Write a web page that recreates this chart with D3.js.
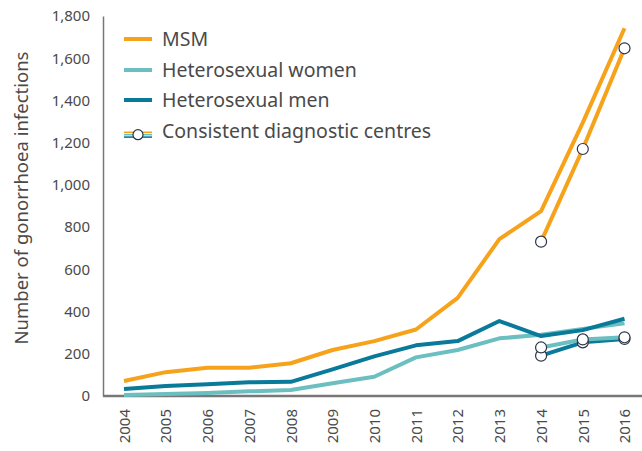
<!DOCTYPE html>
<html>
<head>
<meta charset="utf-8">
<script src="https://cdn.jsdelivr.net/npm/d3@7"></script>
<style>
  body { margin: 0; background: #fff; }
  svg text { font-family: "Noto Sans", "Open Sans", sans-serif; fill: #4a4a4a; }
</style>
</head>
<body>
<svg id="chart" width="642" height="451"></svg>
<script>
var years = [2004, 2005, 2006, 2007, 2008, 2009, 2010, 2011, 2012, 2013, 2014, 2015, 2016];
var msm = [71, 113, 134, 134, 155, 218, 260, 315, 465, 743, 876, 1295, 1742];
var women = [5, 9, 14, 22, 28, 60, 91, 183, 218, 273, 290, 318, 344];
var men = [33, 47, 56, 65, 67, 126, 188, 240, 260, 355, 284, 312, 366];

var consYears = [2014, 2015, 2016];
var msmCons = [731, 1170, 1647];
var womenCons = [230, 268, 278];
var menCons = [191, 254, 270];

var yTicks = [0, 200, 400, 600, 800, 1000, 1200, 1400, 1600, 1800];

var orange = "#f7a21b",
lightTeal = "#6cbfc0",
darkTeal = "#0a7a9a",
ring = "#2b3447";

var svg = d3.select("#chart");

var x = d3.scaleLinear().domain([2004, 2016]).range([124, 624.5]);
var y = d3.scaleLinear().domain([0, 1800]).range([396, 16]);

//AXES
var yAxis = svg.append("g")
	.attr("transform", "translate(103,0)")
	.call(d3.axisLeft(y).tickValues(yTicks).tickSize(0).tickPadding(13).tickFormat(d3.format(",")));
yAxis.select(".domain").attr("stroke", "#777").attr("stroke-width", 1.5);
yAxis.selectAll("text").style("font-size", "15px");

var xAxis = svg.append("g")
	.attr("transform", "translate(0,396)")
	.call(d3.axisBottom(x).tickValues(years).tickSize(0).tickFormat(d3.format("d")));
xAxis.select(".domain").attr("d", "M103,0H642").attr("stroke", "#777").attr("stroke-width", 2.5);
xAxis.selectAll("text")
	.style("font-size", "15px")
	.attr("text-anchor", "end")
	.attr("transform", "rotate(-90)")
	.attr("x", -13)
	.attr("y", 0)
	.attr("dy", "0.35em");

svg.append("text")
	.attr("transform", "translate(28,198) rotate(-90)")
	.attr("text-anchor", "middle")
	.style("font-size", "18.5px")
	.text("Number of gonorrhoea infections");

//LINES
var line = d3.line()
	.x(function(d){ return x(d[0]); })
	.y(function(d){ return y(d[1]); });

function series(xs, vals, color){
	svg.append("path")
		.datum(d3.zip(xs, vals))
		.attr("d", line)
		.attr("fill", "none")
		.attr("stroke", color)
		.attr("stroke-width", 4)
		.attr("stroke-linejoin", "round");
};

series(years, women, lightTeal);
series(years, men, darkTeal);
series(years, msm, orange);
series(consYears, menCons, darkTeal);
series(consYears, womenCons, lightTeal);
series(consYears, msmCons, orange);

function dots(vals){
	svg.append("g").selectAll("circle")
		.data(d3.zip(consYears, vals))
		.join("circle")
		.attr("cx", function(d){ return x(d[0]); })
		.attr("cy", function(d){ return y(d[1]); })
		.attr("r", 5.5)
		.attr("fill", "#fff")
		.attr("stroke", ring)
		.attr("stroke-width", 1.2);
};
dots(menCons);
dots(womenCons);
dots(msmCons);

//LEGEND
var legend = [
	{label: "MSM", color: orange, y: 39},
	{label: "Heterosexual women", color: lightTeal, y: 70},
	{label: "Heterosexual men", color: darkTeal, y: 100}
];
legend.forEach(function(l){
	svg.append("line")
		.attr("x1", 124).attr("x2", 152)
		.attr("y1", l.y).attr("y2", l.y)
		.attr("stroke", l.color).attr("stroke-width", 4);
	svg.append("text")
		.attr("x", 162).attr("y", l.y).attr("dy", "0.36em")
		.style("font-size", "19.5px")
		.text(l.label);
});
[[orange, 132.3], [lightTeal, 134.7], [darkTeal, 137.1]].forEach(function(s){
	svg.append("line")
		.attr("x1", 124).attr("x2", 152)
		.attr("y1", s[1]).attr("y2", s[1])
		.attr("stroke", s[0]).attr("stroke-width", 1.6);
});
svg.append("circle")
	.attr("cx", 138).attr("cy", 134.7).attr("r", 5)
	.attr("fill", "#fff").attr("stroke", ring).attr("stroke-width", 1.2);
svg.append("text")
	.attr("x", 162).attr("y", 131).attr("dy", "0.36em")
	.style("font-size", "19.5px")
	.text("Consistent diagnostic centres");
</script>
</body>
</html>
